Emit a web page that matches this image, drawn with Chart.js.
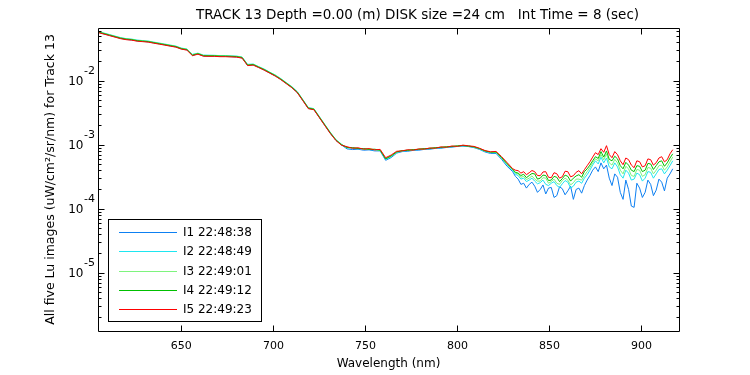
<!DOCTYPE html>
<html>
<head>
<meta charset="utf-8">
<script src="https://cdn.jsdelivr.net/npm/chart.js@4.4.1/dist/chart.umd.min.js"></script>
<style>
  body { margin: 0; background: #fff; }
  #wrap { width: 750px; height: 375px; }
</style>
</head>
<body>
<div id="wrap"><canvas id="luChart" width="750" height="375"></canvas></div>
<script>
// Wavelength grid (nm): 3 nm steps, then 1.5 nm in the noisy NIR part
const wavelengths = [
  605, 608, 611, 614, 617, 620, 623, 626, 629, 632, 635, 638, 641, 644, 647,
  650, 653, 656, 659, 662, 665, 668, 671, 674, 677, 680, 683, 686, 689, 692,
  695, 698, 701, 704, 707, 710, 713, 716, 719, 722, 725, 728, 731, 734, 737,
  740, 743, 746, 749, 752, 755, 758, 761, 764, 767, 770, 773, 776, 779, 782,
  785, 788, 791, 794, 797, 800, 803, 806, 809, 812, 815, 818, 821, 824, 827,
  830, 831.5, 833, 834.5, 836, 837.5, 839, 840.5, 842, 843.5, 845, 846.5, 848, 849.5, 851,
  852.5, 854, 855.5, 857, 858.5, 860, 861.5, 863, 864.5, 866, 867.5, 869, 870.5, 872, 873.5,
  875, 876.5, 878, 879.5, 881, 882.5, 884, 885.5, 887, 888.5, 890, 891.5, 893, 894.5, 896,
  897.5, 899, 900.5, 902, 903.5, 905, 906.5, 908, 909.5, 911, 912.5, 914, 915.5, 917
];

// Lu for the five images (uW/cm^2/sr/nm)
const luI1 = [
  0.0568, 0.0538, 0.0510, 0.0483, 0.0458, 0.0441, 0.0433, 0.0418, 0.0411, 0.0404, 0.0389, 0.0376, 0.0363, 0.0349, 0.0337,
  0.0314, 0.0303, 0.0248, 0.0262, 0.0243, 0.0242, 0.0242, 0.0239, 0.0239, 0.0237, 0.0235, 0.0227, 0.0174, 0.0177, 0.0162,
  0.0147, 0.0132, 0.0119, 0.0105, 0.00907, 0.00785, 0.00655, 0.00492, 0.00369, 0.00356, 0.00267, 0.00200, 0.00150, 0.00117, 0.000992,
  0.000860, 0.000840, 0.000850, 0.000820, 0.000830, 0.000800, 0.000800, 0.000570, 0.000630, 0.000740, 0.000780, 0.000790, 0.000815, 0.000820, 0.000845,
  0.000850, 0.000875, 0.000880, 0.000905, 0.000915, 0.000940, 0.000950, 0.000935, 0.000900, 0.000845, 0.000770, 0.000730, 0.000730, 0.000590, 0.000460,
  0.000380, 0.000320, 0.000290, 0.000240, 0.000250, 0.000210, 0.000240, 0.000260, 0.000225, 0.000180, 0.000200, 0.000235, 0.000170, 0.000210, 0.000215,
  0.000150, 0.000160, 0.000220, 0.000205, 0.000165, 0.000190, 0.000225, 0.000140, 0.000200, 0.000210, 0.000175, 0.000230, 0.000280, 0.000330, 0.000400,
  0.000450, 0.000380, 0.000520, 0.000420, 0.000480, 0.000300, 0.000230, 0.000350, 0.000310, 0.000180, 0.000140, 0.000280, 0.000200, 0.000110, 0.000105,
  0.000250, 0.000210, 0.000150, 0.000180, 0.000280, 0.000240, 0.000160, 0.000195, 0.000290, 0.000260, 0.000190, 0.000300, 0.000350, 0.000420
];
const luI2 = [
  0.0584, 0.0554, 0.0525, 0.0497, 0.0471, 0.0454, 0.0446, 0.0431, 0.0423, 0.0416, 0.0400, 0.0387, 0.0373, 0.0360, 0.0347,
  0.0323, 0.0312, 0.0258, 0.0269, 0.0251, 0.0250, 0.0249, 0.0246, 0.0246, 0.0244, 0.0242, 0.0234, 0.0180, 0.0182, 0.0166,
  0.0152, 0.0136, 0.0123, 0.0108, 0.00934, 0.00808, 0.00675, 0.00506, 0.00380, 0.00366, 0.00274, 0.00206, 0.00155, 0.00120, 0.00102,
  0.000890, 0.000880, 0.000865, 0.000860, 0.000840, 0.000830, 0.000810, 0.000590, 0.000650, 0.000760, 0.000790, 0.000810, 0.000825, 0.000840, 0.000855,
  0.000870, 0.000885, 0.000900, 0.000915, 0.000935, 0.000945, 0.000965, 0.000950, 0.000915, 0.000860, 0.000790, 0.000750, 0.000750, 0.000610, 0.000485,
  0.000400, 0.000345, 0.000330, 0.000290, 0.000300, 0.000265, 0.000280, 0.000300, 0.000270, 0.000245, 0.000255, 0.000280, 0.000240, 0.000230, 0.000250,
  0.000265, 0.000230, 0.000215, 0.000245, 0.000275, 0.000260, 0.000210, 0.000225, 0.000260, 0.000270, 0.000250, 0.000300, 0.000340, 0.000400, 0.000480,
  0.000560, 0.000500, 0.000640, 0.000520, 0.000620, 0.000450, 0.000420, 0.000520, 0.000450, 0.000340, 0.000300, 0.000400, 0.000360, 0.000280, 0.000290,
  0.000360, 0.000340, 0.000270, 0.000300, 0.000380, 0.000370, 0.000300, 0.000350, 0.000410, 0.000420, 0.000350, 0.000400, 0.000470, 0.000560
];
const luI3 = [
  0.0579, 0.0549, 0.0520, 0.0492, 0.0467, 0.0450, 0.0442, 0.0426, 0.0419, 0.0412, 0.0397, 0.0383, 0.0370, 0.0356, 0.0344,
  0.0320, 0.0309, 0.0254, 0.0267, 0.0248, 0.0247, 0.0247, 0.0244, 0.0244, 0.0242, 0.0240, 0.0232, 0.0177, 0.0180, 0.0165,
  0.0150, 0.0135, 0.0122, 0.0107, 0.00925, 0.00800, 0.00668, 0.00502, 0.00376, 0.00363, 0.00272, 0.00204, 0.00153, 0.00119, 0.00101,
  0.000900, 0.000890, 0.000880, 0.000855, 0.000850, 0.000840, 0.000815, 0.000610, 0.000660, 0.000765, 0.000800, 0.000820, 0.000830, 0.000850, 0.000860,
  0.000880, 0.000890, 0.000910, 0.000920, 0.000940, 0.000950, 0.000975, 0.000955, 0.000920, 0.000865, 0.000795, 0.000760, 0.000760, 0.000620, 0.000495,
  0.000410, 0.000360, 0.000350, 0.000310, 0.000320, 0.000285, 0.000300, 0.000325, 0.000290, 0.000270, 0.000270, 0.000305, 0.000300, 0.000250, 0.000265,
  0.000290, 0.000250, 0.000240, 0.000275, 0.000300, 0.000280, 0.000235, 0.000255, 0.000290, 0.000290, 0.000280, 0.000330, 0.000380, 0.000440, 0.000520,
  0.000600, 0.000560, 0.000700, 0.000580, 0.000720, 0.000520, 0.000480, 0.000590, 0.000520, 0.000400, 0.000350, 0.000460, 0.000420, 0.000330, 0.000320,
  0.000410, 0.000400, 0.000320, 0.000340, 0.000440, 0.000430, 0.000350, 0.000400, 0.000470, 0.000480, 0.000400, 0.000450, 0.000540, 0.000640
];
const luI4 = [
  0.0573, 0.0544, 0.0515, 0.0488, 0.0462, 0.0446, 0.0438, 0.0422, 0.0415, 0.0408, 0.0393, 0.0379, 0.0366, 0.0353, 0.0341,
  0.0317, 0.0306, 0.0251, 0.0264, 0.0246, 0.0245, 0.0245, 0.0242, 0.0242, 0.0240, 0.0238, 0.0230, 0.0175, 0.0179, 0.0163,
  0.0149, 0.0134, 0.0120, 0.0106, 0.00916, 0.00793, 0.00662, 0.00497, 0.00372, 0.00359, 0.00269, 0.00202, 0.00152, 0.00118, 0.00100,
  0.000905, 0.000900, 0.000870, 0.000870, 0.000845, 0.000850, 0.000820, 0.000600, 0.000670, 0.000770, 0.000810, 0.000815, 0.000840, 0.000845, 0.000870,
  0.000870, 0.000900, 0.000905, 0.000930, 0.000935, 0.000960, 0.000970, 0.000950, 0.000925, 0.000870, 0.000800, 0.000765, 0.000770, 0.000630, 0.000505,
  0.000415, 0.000370, 0.000360, 0.000330, 0.000345, 0.000305, 0.000330, 0.000355, 0.000350, 0.000290, 0.000300, 0.000335, 0.000330, 0.000275, 0.000280,
  0.000320, 0.000310, 0.000265, 0.000295, 0.000335, 0.000320, 0.000270, 0.000300, 0.000325, 0.000340, 0.000310, 0.000380, 0.000420, 0.000480, 0.000560,
  0.000650, 0.000610, 0.000780, 0.000640, 0.000800, 0.000590, 0.000560, 0.000660, 0.000600, 0.000470, 0.000420, 0.000530, 0.000480, 0.000400, 0.000380,
  0.000470, 0.000460, 0.000380, 0.000400, 0.000510, 0.000500, 0.000410, 0.000470, 0.000540, 0.000560, 0.000460, 0.000520, 0.000620, 0.000720
];
const luI5 = [
  0.0562, 0.0533, 0.0505, 0.0478, 0.0453, 0.0437, 0.0429, 0.0414, 0.0407, 0.0400, 0.0385, 0.0372, 0.0359, 0.0346, 0.0334,
  0.0311, 0.0300, 0.0246, 0.0259, 0.0241, 0.0240, 0.0240, 0.0237, 0.0237, 0.0235, 0.0233, 0.0225, 0.0172, 0.0175, 0.0160,
  0.0146, 0.0131, 0.0118, 0.0104, 0.00898, 0.00777, 0.00649, 0.00487, 0.00365, 0.00352, 0.00264, 0.00198, 0.00149, 0.00116, 0.000982,
  0.000930, 0.000880, 0.000895, 0.000850, 0.000870, 0.000830, 0.000845, 0.000626, 0.000690, 0.000790, 0.000800, 0.000835, 0.000820, 0.000860, 0.000850,
  0.000890, 0.000880, 0.000925, 0.000910, 0.000955, 0.000940, 0.000985, 0.000960, 0.000940, 0.000880, 0.000810, 0.000775, 0.000785, 0.000650, 0.000525,
  0.000422, 0.000400, 0.000393, 0.000360, 0.000379, 0.000340, 0.000365, 0.000395, 0.000379, 0.000330, 0.000328, 0.000375, 0.000379, 0.000310, 0.000305,
  0.000365, 0.000352, 0.000300, 0.000316, 0.000385, 0.000379, 0.000315, 0.000328, 0.000370, 0.000393, 0.000350, 0.000407, 0.000470, 0.000542, 0.000640,
  0.000750, 0.000700, 0.000866, 0.000760, 0.000965, 0.000700, 0.000626, 0.000780, 0.000698, 0.000560, 0.000487, 0.000620, 0.000583, 0.000480, 0.000437,
  0.000560, 0.000542, 0.000450, 0.000470, 0.000600, 0.000583, 0.000480, 0.000523, 0.000620, 0.000649, 0.000540, 0.000583, 0.000720, 0.000835
];

const seriesLabels = ['I1 22:48:38', 'I2 22:48:49', 'I3 22:49:01', 'I4 22:49:12', 'I5 22:49:23'];
const seriesColors = ['#0d80f2', '#1ee6f0', '#7ef47e', '#00c000', '#ff0000'];
const yTickExponents = [-5, -4, -3, -2];
const chartTitle = 'TRACK 13 Depth =0.00 (m) DISK size =24 cm   Int Time = 8 (sec)';

const FONT = '"DejaVu Sans", "Liberation Sans", sans-serif';

// Build the datasets from the arrays; I5 is drawn last (on top)
const allSeries = [luI1, luI2, luI3, luI4, luI5];
const datasets = allSeries.map((vals, i) => ({
    label: seriesLabels[i],
    data: wavelengths.map((w, j) => ({ x: w, y: vals[j] })),
    borderColor: seriesColors[i],
    backgroundColor: seriesColors[i],
    borderWidth: 1,
    pointRadius: 0,
    tension: 0,
    fill: false,
    order: allSeries.length - i
}));

// Frame, inward ticks, y labels with superscripts, legend and title
const matlabLook = {
    id: 'matlabLook',
    beforeDraw(chart) {
        const ctx = chart.ctx;
        ctx.save();
        ctx.fillStyle = '#fff';
        ctx.fillRect(0, 0, chart.width, chart.height);
        ctx.restore();
    },
    afterDraw(chart) {
        const { ctx, chartArea: a, scales: { x, y } } = chart;
        const L = Math.round(a.left) + 0.5, R = Math.round(a.right) + 0.5;
        const T = Math.round(a.top) + 0.5, B = Math.round(a.bottom) + 0.5;
        ctx.save();
        ctx.strokeStyle = '#000';
        ctx.lineWidth = 1;
        ctx.beginPath();
        ctx.rect(L, T, R - L, B - T);

        // x ticks (top and bottom, pointing in)
        x.ticks.forEach(t => {
            const px = Math.round(x.getPixelForValue(t.value)) + 0.5;
            ctx.moveTo(px, B); ctx.lineTo(px, B - 6);
            ctx.moveTo(px, T); ctx.lineTo(px, T + 6);
        });

        // y ticks, major on decades, minor on 2..9
        for (let e = -7; e <= 0; e++) {
            for (let m = 1; m <= 9; m++) {
                const v = m * Math.pow(10, e);
                if (v < y.min || v > y.max) continue;
                const py = Math.round(y.getPixelForValue(v)) + 0.5;
                const len = m === 1 ? 6 : 3;
                ctx.moveTo(L, py); ctx.lineTo(L + len, py);
                ctx.moveTo(R, py); ctx.lineTo(R - len, py);
            }
        }
        ctx.stroke();

        // y tick labels: 10 with superscript exponent
        ctx.fillStyle = '#000';
        yTickExponents.forEach(e => {
            const py = y.getPixelForValue(Math.pow(10, e));
            ctx.font = '12px ' + FONT;
            ctx.textAlign = 'right';
            ctx.textBaseline = 'middle';
            ctx.fillText('10', 83.5, py + 1);
            ctx.font = '11px ' + FONT;
            ctx.textAlign = 'left';
            ctx.fillText(String(e), 84, py - 10);
        });

        // legend box inside the axes
        const lx = 108.5, ly = 219.5, lw = 153, lh = 102;
        ctx.fillStyle = '#fff';
        ctx.fillRect(lx, ly, lw, lh);
        ctx.strokeStyle = '#000';
        ctx.strokeRect(lx, ly, lw, lh);
        ctx.font = '12px ' + FONT;
        ctx.textAlign = 'left';
        ctx.textBaseline = 'middle';
        chart.data.datasets.forEach((ds, i) => {
            const yy = Math.round(231.7 + i * 19.4) + 0.5;
            ctx.beginPath();
            ctx.strokeStyle = seriesColors[i];
            ctx.moveTo(119, yy);
            ctx.lineTo(177, yy);
            ctx.stroke();
            ctx.fillStyle = '#000';
            ctx.fillText(ds.label, 183, yy + 0.5);
        });

        // title
        ctx.font = '13.5px ' + FONT;
        ctx.textAlign = 'center';
        ctx.textBaseline = 'alphabetic';
        ctx.fillStyle = '#000';
        ctx.fillText(chartTitle, 417.5, 19);
        ctx.restore();
    }
};

const ctx = document.getElementById('luChart').getContext('2d');
const luChart = new Chart(ctx, {
    type: 'line',
    data: { datasets: datasets },
    options: {
        responsive: false,
        animation: false,
        devicePixelRatio: 1,
        layout: { padding: { top: 28, right: 71, left: 0, bottom: 0 } },
        plugins: {
            legend: { display: false },
            tooltip: { enabled: false },
            title: { display: false }
        },
        scales: {
            x: {
                type: 'linear',
                min: 604.7,
                max: 920.4,
                grid: { display: false, drawTicks: false },
                border: { display: false },
                ticks: {
                    stepSize: 50,
                    includeBounds: false,
                    color: '#000',
                    padding: 9,
                    maxRotation: 0,
                    font: { family: FONT, size: 11 }
                },
                title: {
                    display: true,
                    text: 'Wavelength (nm)',
                    color: '#000',
                    font: { family: FONT, size: 12 },
                    padding: { top: 0, bottom: 3.8 }
                },
                afterFit(scale) { scale.height = 44; }
            },
            y: {
                type: 'logarithmic',
                min: 1.23e-6,
                max: 0.0665,
                grid: { display: false, drawTicks: false },
                border: { display: false },
                ticks: { display: false },
                title: {
                    display: true,
                    text: 'All five Lu images (uW/cm²/sr/nm) for Track 13',
                    color: '#000',
                    font: { family: FONT, size: 12.5 },
                    padding: { top: 43.5, bottom: 0 }
                },
                afterFit(scale) { scale.width = 98; }
            }
        }
    },
    plugins: [matlabLook]
});
</script>
</body>
</html>
